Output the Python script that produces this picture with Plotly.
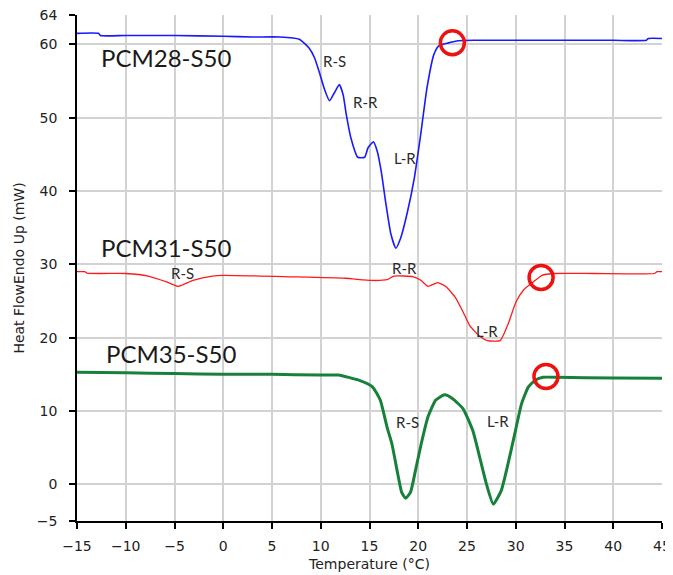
import plotly.graph_objects as go

# PCM28-S50 (blue)
t28 = [-15, -12.8, -12.6, -10, -5, 0, 3, 5.8, 7.8, 8.8, 9.35, 9.9, 10.4, 10.9, 11.4, 11.9, 12.3, 12.6, 13.1,
       13.8, 14.5, 14.85, 15.4, 15.8, 16.2, 16.7, 17.2, 17.7, 18.2, 18.9, 19.6, 20.2, 20.9, 21.6, 22.1,
       23.1, 24.1, 26, 30, 35, 40, 43.4, 43.6, 45]
y28 = [61.5, 61.5, 61.2, 61.2, 61.2, 61.1, 61.0, 61.0, 60.7, 59.5, 58.2, 56.0, 53.8, 52.3, 53.4, 54.5, 53.1, 50.6, 47.2,
       44.6, 44.6, 45.9, 46.7, 45.4, 42.7, 38.1, 34.1, 32.2, 33.6, 37.2, 41.8, 47.2, 54.1, 58.6, 59.8,
       60.2, 60.5, 60.55, 60.55, 60.55, 60.55, 60.55, 60.8, 60.8]

# PCM31-S50 (red)
t31 = [-15, -14.2, -14, -10, -7.7, -5.8, -4.6, -3.1, -1.1, 0, 7, 12.5, 15.2, 16.8, 17.5, 19.5, 20.3, 21.0, 22.0,
       22.8, 23.8, 24.6, 25.3, 26.3, 27.1, 28.4, 29.2, 30.0, 30.8, 31.8, 32.7, 33.9, 38, 44.2, 44.5, 45]
y31 = [29.0, 29.0, 28.8, 28.75, 28.4, 27.6, 27.0, 27.8, 28.4, 28.5, 28.3, 28.1, 27.8, 27.9, 28.4, 28.3, 27.8, 27.0, 27.5,
       27.0, 25.5, 23.5, 21.6, 20.2, 19.6, 19.6, 21.8, 24.8, 26.5, 27.6, 28.5, 28.75, 28.75, 28.75, 29.0, 29.0]

# PCM35-S50 (green)
t35 = [-15, -10, -5, 0, 5, 10, 11.8, 13.9, 15.3, 16.1, 16.8, 17.3, 17.9, 18.3, 18.7, 19.2, 19.7, 20.3, 21.0,
       21.8, 22.7, 23.5, 24.6, 25.6, 26.3, 27.0, 27.7, 28.5, 29.2, 29.9, 30.6, 31.3, 32.0, 32.8, 34.2, 40, 45]
y35 = [15.3, 15.2, 15.1, 15.0, 15.0, 14.9, 14.9, 14.2, 13.3, 11.5, 7.8, 5.5, 1.4, -1.1, -1.9, -1.1, 1.8, 5.5, 9.2,
       11.5, 12.2, 11.7, 10.3, 7.3, 3.7, 0.0, -2.7, -0.9, 2.75, 6.9, 11.0, 13.3, 14.2, 14.6, 14.6, 14.5, 14.45]

# highlighted points (red circles)
circle_t = [23.5, 32.6, 33.1]
circle_y = [60.2, 28.2, 14.7]

# series labels
series_names = ["PCM28-S50", "PCM31-S50", "PCM35-S50"]
series_label_t = [-12.7, -12.7, -12.2]
series_label_y = [58.2, 32.3, 17.9]

# peak labels
peak_text = ["R-S", "R-R", "L-R", "R-S", "R-R", "L-R", "R-S", "L-R"]
peak_t = [11.4, 14.6, 18.6, -4.2, 18.6, 27.1, 18.9, 28.2]
peak_y = [57.7, 52.1, 44.5, 28.8, 29.5, 20.9, 8.5, 8.6]

x_ticks = list(range(-15, 46, 5))
y_ticks = [-5, 0, 10, 20, 30, 40, 50, 60, 64]

fig = go.Figure()
fig.add_trace(go.Scatter(x=t28, y=y28, mode="lines", line=dict(color="#1a1aff", width=1.6, shape="spline", smoothing=0.5), showlegend=False))
fig.add_trace(go.Scatter(x=t31, y=y31, mode="lines", line=dict(color="#ff1a1a", width=1.3, shape="spline", smoothing=0.5), showlegend=False))
fig.add_trace(go.Scatter(x=t35, y=y35, mode="lines", line=dict(color="#17813a", width=3, shape="spline", smoothing=0.5), showlegend=False))
fig.add_trace(go.Scatter(x=circle_t, y=circle_y, mode="markers",
                         marker=dict(symbol="circle-open", size=24, color="#ee1111", line=dict(width=3.5, color="#ee1111")),
                         showlegend=False))

for name, tx, ty in zip(series_names, series_label_t, series_label_y):
    fig.add_annotation(x=tx, y=ty, text=name, showarrow=False, xanchor="left", yanchor="middle",
                       font=dict(family="Lato, Open Sans, sans-serif", size=24, color="#1a1a1a"))
for txt, tx, ty in zip(peak_text, peak_t, peak_y):
    fig.add_annotation(x=tx, y=ty, text=txt, showarrow=False, xanchor="center", yanchor="middle",
                       font=dict(family="Lato, Open Sans, sans-serif", size=15, color="#2a2a2a"))

# page body has an 8px default margin, so the figure is 8px smaller than the window
fig.update_layout(
    width=665, height=567,
    margin=dict(l=69, r=11, t=7, b=54),
    paper_bgcolor="white", plot_bgcolor="white",
    font=dict(family="DejaVu Sans, sans-serif", size=14, color="#222"),
    xaxis=dict(range=[-15, 45], tickvals=x_ticks, showgrid=True, gridcolor="#d2d2d2", gridwidth=2,
               showline=True, linecolor="black", linewidth=1.8, ticks="outside", ticklen=6, tickcolor="black",
               tickwidth=1.5, zeroline=False, automargin=False, ticklabelstandoff=5,
               ticklabeloverflow="allow",
               title=dict(text="Temperature (°C)", standoff=6, font=dict(size=14))),
    yaxis=dict(range=[-5, 64], tickvals=y_ticks, showgrid=True, gridcolor="#d2d2d2", gridwidth=2,
               showline=True, linecolor="black", linewidth=1.8, ticks="outside", ticklen=6, tickcolor="black",
               tickwidth=1.5, zeroline=False, automargin=False, ticklabelstandoff=9,
               ticklabeloverflow="allow",
               title=dict(text="Heat FlowEndo Up (mW)", standoff=9, font=dict(size=14))),
)
fig.write_html("out.html")
